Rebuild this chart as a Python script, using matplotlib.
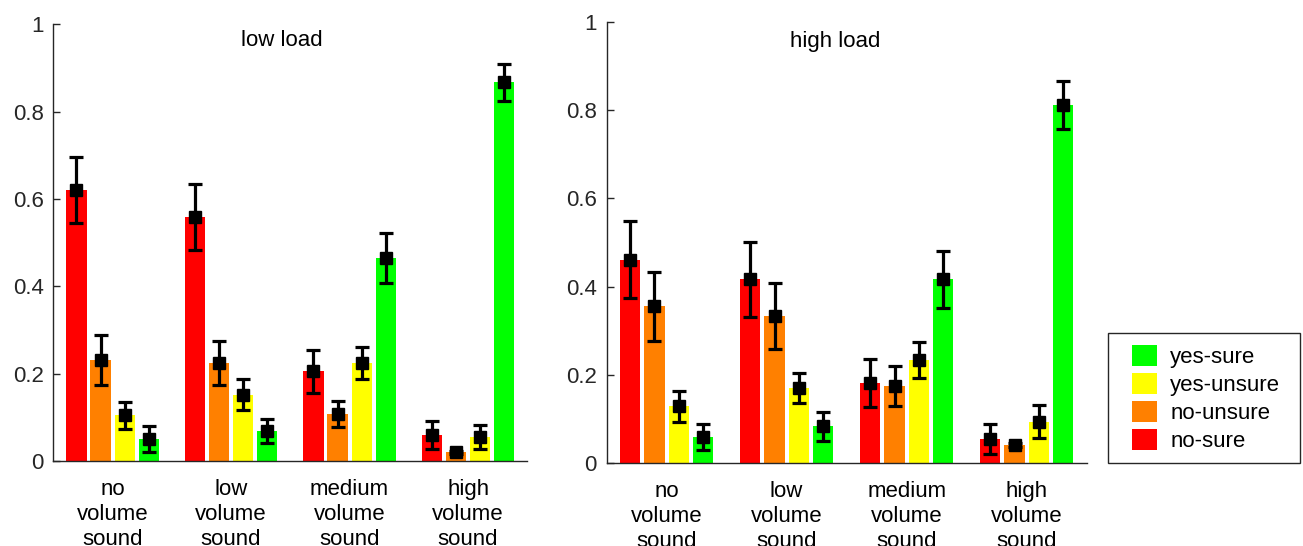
import matplotlib
matplotlib.use("Agg")
import matplotlib.pyplot as plt
import numpy as np
from matplotlib.patches import Patch, Rectangle

plt.rcParams['font.family'] = ['Liberation Sans', 'DejaVu Sans']

groups = ["no\nvolume\nsound", "low\nvolume\nsound", "medium\nvolume\nsound", "high\nvolume\nsound"]
series = ["no-sure", "no-unsure", "yes-unsure", "yes-sure"]
colors = ["#FF0000", "#FF8000", "#FFFF00", "#00FF00"]

# low load: rows = series (no-sure, no-unsure, yes-unsure, yes-sure), cols = groups
low_mean = [
    [0.620, 0.558, 0.205, 0.059],
    [0.231, 0.225, 0.107, 0.020],
    [0.105, 0.152, 0.225, 0.055],
    [0.050, 0.068, 0.465, 0.867],
]
low_err = [
    [0.076, 0.075, 0.050, 0.032],
    [0.058, 0.050, 0.030, 0.004],
    [0.031, 0.035, 0.037, 0.027],
    [0.030, 0.027, 0.058, 0.042],
]
high_mean = [
    [0.461, 0.416, 0.181, 0.055],
    [0.355, 0.334, 0.175, 0.041],
    [0.129, 0.170, 0.233, 0.094],
    [0.059, 0.083, 0.416, 0.811],
]
high_err = [
    [0.087, 0.085, 0.054, 0.034],
    [0.078, 0.075, 0.045, 0.005],
    [0.035, 0.035, 0.041, 0.038],
    [0.029, 0.033, 0.065, 0.055],
]
titles = ["low load", "high load"]
yticks = [0, 0.2, 0.4, 0.6, 0.8, 1]
yticklabels = ["0", "0.2", "0.4", "0.6", "0.8", "1"]

W, H = 1303, 546
fig = plt.figure(figsize=(W / 100, H / 100), dpi=100)
axes = [fig.add_axes([0.0409, 0.1557, 0.3638, 0.800]),
        fig.add_axes([0.4656, 0.1520, 0.3684, 0.808])]
title_x = [0.482, 0.477]

axcol = "#262626"
FS = 16
x = np.arange(1, len(groups) + 1)
for ax, means, errs, title, tx in zip(axes, [low_mean, high_mean], [low_err, high_err], titles, title_x):
    for i, (m, e, c) in enumerate(zip(means, errs, colors)):
        xs = x + (i - 1.5) * 0.203
        ax.bar(xs, m, width=0.17, color=c, edgecolor='none', zorder=2)
        ax.errorbar(xs, m, yerr=e, fmt='s', color='black', ms=9, elinewidth=2.3,
                    capsize=5, capthick=2.3, zorder=3)
    ax.set_xlim(0.5, 4.5)
    ax.set_ylim(0, 1)
    ax.set_xticks(x)
    ax.set_xticklabels(groups, fontsize=FS, linespacing=1.25, color='black')
    ax.set_yticks(yticks)
    ax.set_yticklabels(yticklabels, fontsize=FS, color=axcol)
    ax.tick_params(axis='x', length=0, pad=13)
    ax.tick_params(axis='y', direction='in', length=5, width=1, color=axcol, pad=7)
    for s in ['top', 'right']:
        ax.spines[s].set_visible(False)
    for s in ['left', 'bottom']:
        ax.spines[s].set_color(axcol)
        ax.spines[s].set_linewidth(1.0)
    bb = ax.get_position()
    fig.text(bb.x0 + tx * bb.width, 1 - 41 / H, title, ha='center', va='center', fontsize=FS)

# legend frame
fig.add_artist(Rectangle((1108 / W, 1 - 463 / H), 192 / W, 130 / H, transform=fig.transFigure,
                         facecolor='white', edgecolor=axcol, linewidth=1.0, zorder=1))
handles = [Patch(facecolor=c, edgecolor='none', label=l) for c, l in zip(colors, series)][::-1]
leg = fig.legend(handles=handles, loc='upper left', bbox_to_anchor=(1132 / W, 1 - 345 / H),
                 fontsize=FS, frameon=False,
                 handlelength=1.12, handleheight=1.08, labelspacing=0.22, borderpad=0,
                 handletextpad=0.6, borderaxespad=0)
leg.set_zorder(2)

fig.savefig("out.png", dpi=100)
